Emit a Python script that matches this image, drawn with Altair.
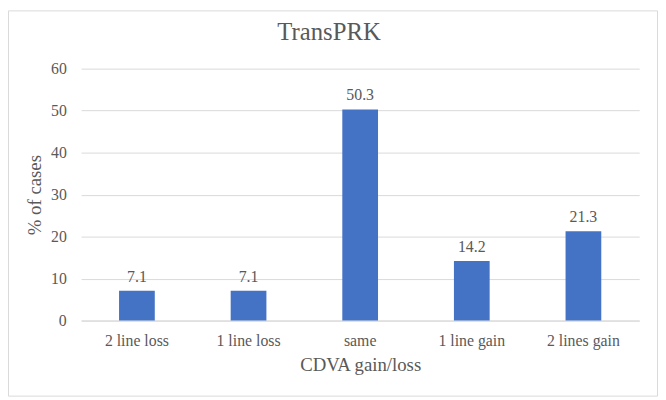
import altair as alt
import pandas as pd

categories = ["2 line loss", "1 line loss", "same", "1 line gain", "2 lines gain"]
values = [7.1, 7.1, 50.3, 14.2, 21.3]
chart_title = ["TransPRK"]

df = pd.DataFrame({"cat": categories, "val": values})

FONT = "Liberation Serif"
TXT = "#595959"

x_enc = alt.X("cat:N", sort=categories, title="CDVA gain/loss",
              scale=alt.Scale(paddingInner=0.68, paddingOuter=0.34),
              axis=alt.Axis(labelAngle=0, ticks=False, grid=False, domainColor="#d9d9d9",
                            labelFont=FONT, labelFontSize=16, labelColor=TXT,
                            labelPadding=12, titleFont=FONT, titleFontSize=19,
                            titleColor=TXT, titleFontWeight="normal", titlePadding=8))
y_enc = alt.Y("val:Q", title="% of cases",
              scale=alt.Scale(domain=[0, 60]),
              axis=alt.Axis(values=[0, 10, 20, 30, 40, 50, 60], domain=False, ticks=False,
                            gridColor="#d9d9d9", labelFont=FONT, labelFontSize=16,
                            labelColor=TXT, labelPadding=15, titleFont=FONT,
                            titleFontSize=19, titleColor=TXT, titleFontWeight="normal",
                            titlePadding=6))

bars = alt.Chart(df).mark_bar(color="#4472C4").encode(x=x_enc, y=y_enc)
labels = alt.Chart(df).mark_text(dy=-9, baseline="alphabetic", font=FONT, fontSize=16,
                                 color=TXT).encode(
    x=alt.X("cat:N", sort=categories), y="val:Q", text=alt.Text("val:Q", format=".1f"))

title_df = pd.DataFrame({"t": chart_title})
frame = alt.Chart(title_df).mark_rect(fill=None, stroke="#d9d9d9", strokeWidth=1, clip=False).encode(
    x=alt.value(-73.5), x2=alt.value(583.5), y=alt.value(-58.5), y2=alt.value(331.5))

title = alt.Chart(title_df).mark_text(
    font=FONT, fontSize=25, color=TXT, baseline="alphabetic", align="center").encode(
    x=alt.value(251), y=alt.value(-29), text="t:N")

chart = alt.layer(frame, bars, labels, title).properties(
    width=565, height=255,
    autosize=alt.AutoSizeParams(type="none"),
    padding={"left": 74, "top": 59, "right": 19, "bottom": 77},
).configure(background="white").configure_view(strokeWidth=0)

chart.save("out.html", embed_options={"renderer": "svg", "actions": False})
